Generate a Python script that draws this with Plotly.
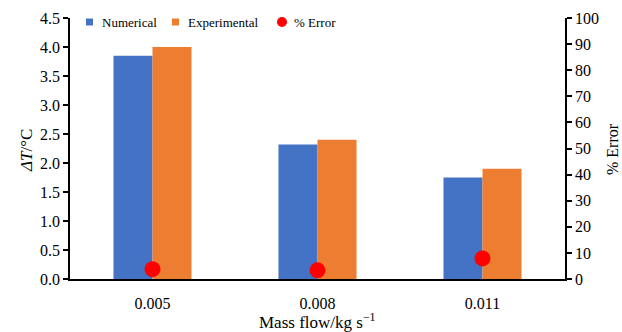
import plotly.graph_objects as go

categories = ["0.005", "0.008", "0.011"]
numerical = [3.85, 2.32, 1.75]
experimental = [4.0, 2.4, 1.9]
percent_error = [3.75, 3.33, 7.89]

series_names = ["Numerical", "Experimental", "% Error"]
series_colors = ["#4472C4", "#ED7D31", "#FF0000"]

FONT = "Liberation Serif, Times New Roman, serif"

# plot-area geometry in pixels
W, H = 622, 332
ML, MR, MT, MB = 70, 57, 18, 53
PW, PH = W - ML - MR, H - MT - MB


def px_x(p):
    return (p - ML) / PW


def px_y(p):
    return (H - MB - p) / PH


fig = go.Figure()
fig.add_trace(go.Bar(
    x=categories, y=numerical, name=series_names[0],
    marker=dict(color=series_colors[0], line=dict(width=0)),
))
fig.add_trace(go.Bar(
    x=categories, y=experimental, name=series_names[1],
    marker=dict(color=series_colors[1], line=dict(width=0)),
))
fig.add_trace(go.Scatter(
    x=categories, y=percent_error, name=series_names[2], yaxis="y2",
    mode="markers", marker=dict(color=series_colors[2], size=16),
))

# legend row across the top of the plot area
shapes = []
annotations = []
legend_y = px_y(22)
legend_items = [(86, 100, "rect"), (172, 186, "rect"), (277, 292, "circle")]
for (sx, tx, kind), name, color in zip(legend_items, series_names, series_colors):
    size = 7 if kind == "rect" else 10
    shapes.append(dict(
        type=kind, xref="paper", yref="paper",
        x0=px_x(sx), x1=px_x(sx + size),
        y0=legend_y - (size / 2) / PH, y1=legend_y + (size / 2) / PH,
        fillcolor=color, line=dict(width=0),
    ))
    annotations.append(dict(
        text=name, xref="paper", yref="paper", x=px_x(tx), y=legend_y,
        xanchor="left", yanchor="middle", showarrow=False,
        font=dict(family=FONT, size=13, color="black"),
    ))

# axis titles
annotations += [
    dict(text="<i>ΔT</i>/°C", xref="paper", yref="paper",
         x=px_x(26), y=px_y(151), textangle=-90, showarrow=False,
         xanchor="center", yanchor="middle",
         font=dict(family=FONT, size=17, color="black")),
    dict(text="% Error", xref="paper", yref="paper",
         x=px_x(612), y=px_y(149), textangle=-90, showarrow=False,
         xanchor="center", yanchor="middle",
         font=dict(family=FONT, size=16, color="black")),
    dict(text="Mass flow/kg s<sup>−1</sup>", xref="paper", yref="paper",
         x=px_x(317), y=px_y(321), showarrow=False,
         xanchor="center", yanchor="middle",
         font=dict(family=FONT, size=17, color="black")),
]

fig.update_layout(
    width=W, height=H,
    margin=dict(l=ML, r=MR, t=MT, b=MB, autoexpand=False),
    paper_bgcolor="white", plot_bgcolor="white",
    font=dict(family=FONT, size=16, color="black"),
    barmode="group", bargap=0.527, bargroupgap=0,
    showlegend=False,
    shapes=shapes,
    annotations=annotations,
    xaxis=dict(
        showline=True, linecolor="black", linewidth=1.5,
        ticks="", showgrid=False, zeroline=False, automargin=False,
        ticklabelstandoff=9,
        tickfont=dict(family=FONT, size=16),
    ),
    yaxis=dict(
        range=[0, 4.5], dtick=0.5, tickformat=".1f",
        showline=True, linecolor="black", linewidth=1.5,
        ticks="outside", ticklen=5, tickcolor="black", tickwidth=1.5,
        showgrid=False, zeroline=False, automargin=False,
        tickfont=dict(family=FONT, size=16),
    ),
    yaxis2=dict(
        range=[0, 100], dtick=10, overlaying="y", side="right",
        showline=True, linecolor="black", linewidth=1.5,
        ticks="outside", ticklen=5, tickcolor="black", tickwidth=1.5,
        showgrid=False, zeroline=False, automargin=False,
        tickfont=dict(family=FONT, size=16),
    ),
)

fig.write_html("out.html")
